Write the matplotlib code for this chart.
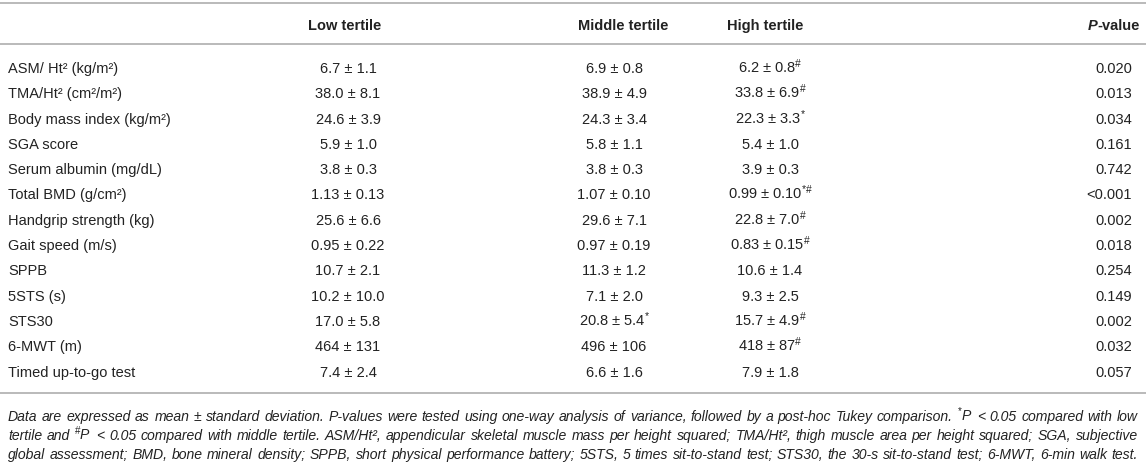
import matplotlib
matplotlib.use("Agg")
import matplotlib.pyplot as plt

plt.rcParams['font.family'] = ['Liberation Sans', 'DejaVu Sans']
plt.rcParams['mathtext.fontset'] = 'custom'
plt.rcParams['mathtext.rm'] = 'Liberation Sans'
plt.rcParams['mathtext.it'] = 'Liberation Sans:italic'
plt.rcParams['mathtext.bf'] = 'Liberation Sans:bold'

# table content
headers = ["Low tertile", "Middle tertile", "High tertile"]
labels = ["ASM/ Ht² (kg/m²)", "TMA/Ht² (cm²/m²)", "Body mass index (kg/m²)", "SGA score",
          "Serum albumin (mg/dL)", "Total BMD (g/cm²)", "Handgrip strength (kg)",
          "Gait speed (m/s)", "SPPB", "5STS (s)", "STS30", "6-MWT (m)", "Timed up-to-go test"]
low = ["6.7 ± 1.1", "38.0 ± 8.1", "24.6 ± 3.9", "5.9 ± 1.0", "3.8 ± 0.3", "1.13 ± 0.13",
       "25.6 ± 6.6", "0.95 ± 0.22", "10.7 ± 2.1", "10.2 ± 10.0", "17.0 ± 5.8", "464 ± 131", "7.4 ± 2.4"]
mid = ["6.9 ± 0.8", "38.9 ± 4.9", "24.3 ± 3.4", "5.8 ± 1.1", "3.8 ± 0.3", "1.07 ± 0.10",
       "29.6 ± 7.1", "0.97 ± 0.19", "11.3 ± 1.2", "7.1 ± 2.0", "20.8 ± 5.4", "496 ± 106", "6.6 ± 1.6"]
mid_marks = ["", "", "", "", "", "", "", "", "", "", "*", "", ""]
high = ["6.2 ± 0.8", "33.8 ± 6.9", "22.3 ± 3.3", "5.4 ± 1.0", "3.9 ± 0.3", "0.99 ± 0.10",
        "22.8 ± 7.0", "0.83 ± 0.15", "10.6 ± 1.4", "9.3 ± 2.5", "15.7 ± 4.9", "418 ± 87", "7.9 ± 1.8"]
high_marks = ["#", "#", "*", "", "", "*#", "#", "#", "", "", "#", "#", ""]
pvals = ["0.020", "0.013", "0.034", "0.161", "0.742", "<0.001", "0.002", "0.018",
         "0.254", "0.149", "0.002", "0.032", "0.057"]

footnote = [
    "Data are expressed as mean ± standard deviation. P-values were tested using one-way analysis "
    "of variance, followed by a post-hoc Tukey comparison. $^{*}$P < 0.05 compared with low",
    "tertile and $^{\\#}$P < 0.05 compared with middle tertile. ASM/Ht², appendicular skeletal muscle "
    "mass per height squared; TMA/Ht², thigh muscle area per height squared; SGA, subjective",
    "global assessment; BMD, bone mineral density; SPPB, short physical performance battery; "
    "5STS, 5 times sit-to-stand test; STS30, the 30-s sit-to-stand test; 6-MWT, 6-min walk test.",
]


def with_marks(v, m):
    if not m:
        return v
    return v + "$^{" + m.replace("#", "\\#") + "}$"


W, H = 1146, 477
fig = plt.figure(figsize=(W / 100, H / 100), dpi=100)
ax = fig.add_axes([0, 0, 1, 1])
ax.set_xlim(0, W)
ax.set_ylim(H, 0)
ax.axis('off')

txt = '#222222'
line_c = '#b4b4b4'
fs = 10.5
bl = 5  # baseline offset from row centre

for y in [4, 45, 394]:
    ax.plot([0, W], [y, y], color=line_c, lw=1.3, solid_capstyle='butt')

# header
head_y = 25 + bl
for x, h in zip([345, 623, 765], headers):
    ax.text(x, head_y, h, ha='center', va='baseline', fontsize=fs, fontweight='bold', color=txt)
r = fig.canvas.get_renderer()
t = ax.text(1140, head_y, "-value", ha='right', va='baseline', fontsize=fs, fontweight='bold', color=txt)
bb = t.get_window_extent(r)
xl = ax.transData.inverted().transform((bb.x0, bb.y0))[0]
ax.text(xl, head_y, "P", ha='right', va='baseline', fontsize=fs, fontweight='bold',
        fontstyle='italic', color=txt)

# body rows
y0, dy = 68, 25.3
for i in range(len(labels)):
    y = y0 + i * dy + bl
    ax.text(8, y, labels[i], ha='left', va='baseline', fontsize=fs, color=txt)
    ax.text(348, y, low[i], ha='center', va='baseline', fontsize=fs, color=txt)
    ax.text(614, y, with_marks(mid[i], mid_marks[i]), ha='center', va='baseline', fontsize=fs, color=txt)
    ax.text(770, y, with_marks(high[i], high_marks[i]), ha='center', va='baseline', fontsize=fs, color=txt)
    ax.text(1132, y, pvals[i], ha='right', va='baseline', fontsize=fs, color=txt)

# footnote, justified between left and right margins
left, right = 8, 1138
fy = [416, 435, 454]
for line, y in zip(footnote, fy):
    words = line.split(" ")
    items = [ax.text(0, y + bl, w, ha='left', va='baseline', fontsize=10.1, fontstyle='italic', color=txt)
             for w in words]
    widths = [it.get_window_extent(r).width for it in items]
    gap = (right - left - sum(widths)) / (len(words) - 1)
    x = left
    for it, w in zip(items, widths):
        it.set_x(x)
        x += w + gap

fig.savefig("out.png", dpi=100)
